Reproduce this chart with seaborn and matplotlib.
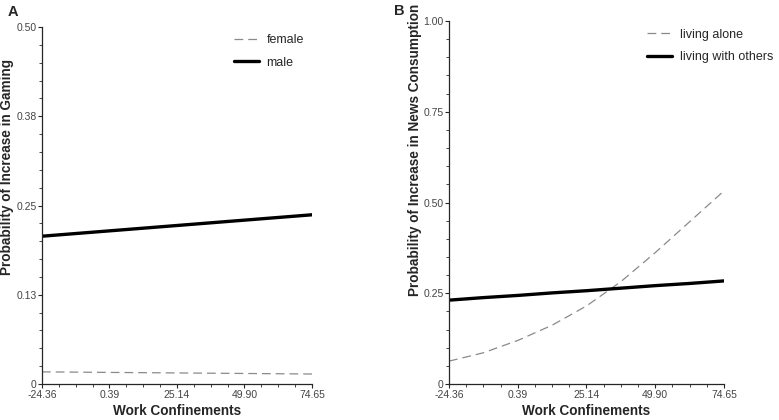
import pandas as pd
import seaborn as sns
import matplotlib.pyplot as plt
import numpy as np
from matplotlib.ticker import FixedLocator, AutoMinorLocator

sns.set_style('ticks')
plt.rcParams['font.family'] = ['Liberation Sans', 'DejaVu Sans']

# Data
work_ticks = [-24.36, 0.39, 25.14, 49.90, 74.65]
work_labels = ['-24.36', '0.39', '25.14', '49.90', '74.65']

# panel A: gaming
gaming_x = [-24.36, 74.65]
gaming_female = [0.017, 0.014]
gaming_male = [0.207, 0.237]
gaming_yticks = [0, 0.125, 0.25, 0.375, 0.5]
gaming_ylabels = ['0', '0.13', '0.25', '0.38', '0.50']

# panel B: news consumption
news_x = [-24.36, -12.0, 0.39, 12.77, 25.14, 37.52, 49.90, 62.27, 74.65]
news_alone = [0.063, 0.086, 0.12, 0.162, 0.215, 0.282, 0.362, 0.447, 0.532]
news_others = [0.231, 0.238, 0.244, 0.251, 0.257, 0.264, 0.271, 0.277, 0.284]
news_yticks = [0, 0.25, 0.5, 0.75, 1.0]
news_ylabels = ['0', '0.25', '0.50', '0.75', '1.00']

df_a = pd.concat([
    pd.DataFrame({'x': gaming_x, 'p': gaming_female, 'group': 'female'}),
    pd.DataFrame({'x': gaming_x, 'p': gaming_male, 'group': 'male'}),
])
df_b = pd.concat([
    pd.DataFrame({'x': news_x, 'p': news_alone, 'group': 'living alone'}),
    pd.DataFrame({'x': news_x, 'p': news_others, 'group': 'living with others'}),
])

fig = plt.figure(figsize=(7.79, 4.2), dpi=100)
ax_a = fig.add_axes([0.0539, 0.0857, 0.3466, 0.85])
ax_b = fig.add_axes([0.5764, 0.0857, 0.353, 0.8643])


def draw_panel(ax, df, names, yticks, ylabels, legend_pos):
    sns.lineplot(data=df, x='x', y='p', hue='group', style='group',
                 palette={names[0]: '#8a8a8a', names[1]: 'black'},
                 dashes={names[0]: (7, 4), names[1]: ''},
                 size='group', sizes={names[0]: 0.9, names[1]: 2.4},
                 ax=ax)
    ax.set_xlim(work_ticks[0], work_ticks[-1])
    ax.set_ylim(yticks[0], yticks[-1])
    ax.xaxis.set_major_locator(FixedLocator(work_ticks))
    ax.set_xticklabels(work_labels)
    ax.yaxis.set_major_locator(FixedLocator(yticks))
    ax.set_yticklabels(ylabels)
    ax.xaxis.set_minor_locator(AutoMinorLocator(4))
    ax.yaxis.set_minor_locator(AutoMinorLocator(5))
    ax.tick_params(which='major', length=3, width=0.8, labelsize=7.5,
                   labelcolor='#444444', pad=1)
    ax.tick_params(which='minor', length=2, width=0.6)
    for s in ['top', 'right']:
        ax.spines[s].set_visible(False)
    for s in ['left', 'bottom']:
        ax.spines[s].set_linewidth(0.9)
    ax.set_xlabel('Work Confinements', fontsize=9.8, fontweight='bold', labelpad=3)
    ax.set_ylabel('')
    handles, labels = ax.get_legend_handles_labels()
    ax.legend(handles, labels, loc='upper left', bbox_to_anchor=legend_pos,
              frameon=False, fontsize=9, handlelength=2.0, handletextpad=0.6,
              labelspacing=0.85)


draw_panel(ax_a, df_a, ['female', 'male'], gaming_yticks, gaming_ylabels, (0.67, 1.012))
draw_panel(ax_b, df_b, ['living alone', 'living with others'], news_yticks, news_ylabels,
           (0.68, 1.01))

# y labels sit above the axis centre in the original
fig.text(7 / 779, 1 - 167 / 420, 'Probability of Increase in Gaming', rotation=90,
         ha='center', va='center', fontsize=9.8, fontweight='bold')
fig.text(415 / 779, 1 - 150 / 420, 'Probability of Increase in News Consumption',
         rotation=90, ha='center', va='center', fontsize=9.8, fontweight='bold')

fig.text(8 / 779, 1 - 12 / 420, 'A', fontsize=10.5, fontweight='bold', va='center')
fig.text(394 / 779, 1 - 11 / 420, 'B', fontsize=10.5, fontweight='bold', va='center')

fig.savefig('out.png', dpi=100)
